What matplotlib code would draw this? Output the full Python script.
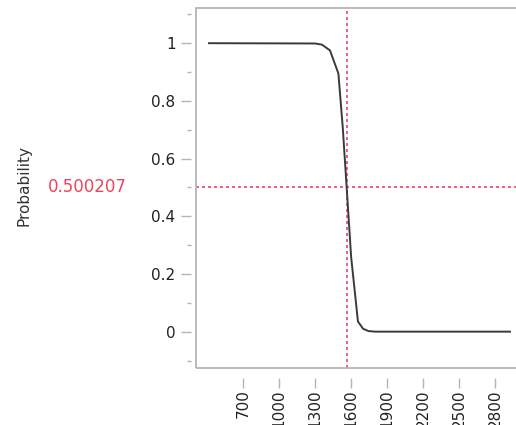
import matplotlib
matplotlib.use('Agg')
import matplotlib.pyplot as plt
from matplotlib.patches import Rectangle
from matplotlib.transforms import blended_transform_factory

# profile data
score = [416, 1300, 1357, 1424, 1494, 1530, 1563, 1600, 1657, 1700, 1745, 1800, 2924]
probability = [1.0, 0.999, 0.995, 0.975, 0.895, 0.71, 0.5, 0.26, 0.035, 0.01, 0.002, 0.0, 0.0]

cross_x = 1563
cross_y = 0.500207

x_ticks = [700, 1000, 1300, 1600, 1900, 2200, 2500, 2800]
y_ticks = [0, 0.2, 0.4, 0.6, 0.8, 1]
y_tick_labels = ['0', '0.2', '0.4', '0.6', '0.8', '1']
y_minor = [-0.1, 0.1, 0.3, 0.5, 0.7, 0.9, 1.1]

RED = '#f0435f'
GRID = '#b4b4b4'
TEXT = '#222222'

fig = plt.figure(figsize=(5.16, 4.25), dpi=100)
ax = fig.add_axes([196 / 516, 57 / 425, 1 - 196 / 516, 360 / 425])

# curve
ax.plot(score, probability, color='#3a3a3a', lw=1.4, zorder=3)

# red crosshair
ax.axvline(cross_x, color=RED, lw=1.2, dashes=(1.8, 1.8), zorder=2)
ax.axhline(cross_y, color=RED, lw=1.2, dashes=(1.8, 1.8), zorder=2)

ax.set_xlim(307.5, 2974)
ax.set_ylim(-0.126, 1.122)

# ticks sit a little away from the frame
for side in ['left', 'bottom', 'top', 'right']:
    ax.spines[side].set_visible(False)
ax.spines['left'].set_position(('outward', 3.5))
ax.spines['bottom'].set_position(('outward', 7))

ax.set_xticks(x_ticks)
ax.set_xticklabels([str(v) for v in x_ticks], rotation=90, fontsize=11, color=TEXT)
ax.set_yticks(y_ticks)
ax.set_yticklabels(y_tick_labels, fontsize=11, color=TEXT)
ax.set_yticks(y_minor, minor=True)

ax.tick_params(axis='y', which='major', length=7, width=1, color=GRID, pad=4.3)
ax.tick_params(axis='y', which='minor', length=3, width=1, color=GRID)
ax.tick_params(axis='x', which='major', length=7, width=1, color=GRID, pad=1.5)

# frame drawn by hand (right edge falls off the picture)
ax.add_patch(Rectangle((0, 0), 1.02, 1, transform=ax.transAxes, fill=False,
                       edgecolor=GRID, lw=1.3, clip_on=False, zorder=4))

# labels on the left
trans = blended_transform_factory(fig.transFigure, ax.transData)
ax.text(127 / 516, cross_y, '0.500207', transform=trans, ha='right', va='center',
        fontsize=12, color=RED)
fig.text(24 / 516, 1 - 185 / 425, 'Probability', rotation=90, ha='center', va='center',
         fontsize=11, color='#333333')

fig.savefig('out.png', dpi=100)
